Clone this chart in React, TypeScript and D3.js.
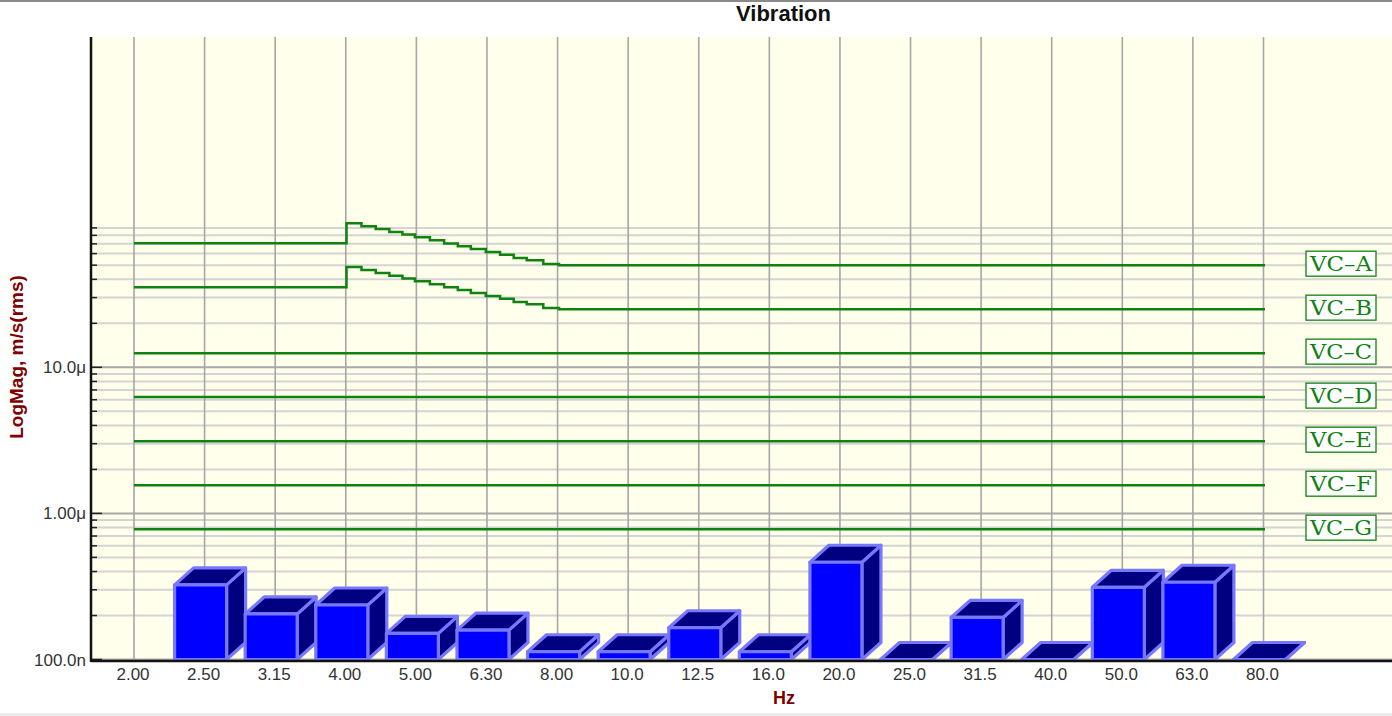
import React from "react";
import * as d3 from "d3";

// 1/3 octave band centres shown on the x axis
const bands = [
  "2.00", "2.50", "3.15", "4.00", "5.00", "6.30", "8.00", "10.0", "12.5",
  "16.0", "20.0", "25.0", "31.5", "40.0", "50.0", "63.0", "80.0",
];

// measured band levels, m/s rms (null = no bar)
const levels = [
  null, 324e-9, 205e-9, 236e-9, 151e-9, 159e-9, 113e-9, 113e-9, 165e-9,
  113e-9, 463e-9, 85e-9, 194e-9, 85e-9, 312e-9, 338e-9, 85e-9,
];

// vibration criterion curves (Hz, µm/s)
const vcSteppedFreq = [2, 4, 4.2, 4.4, 4.6, 4.8, 5.0, 5.25, 5.5, 5.75, 6.0, 6.3, 6.6, 6.9, 7.2, 7.6, 8, 80];
const vcAValues = [70.6, 97, 92.5, 88.5, 84.5, 81, 77.5, 74, 70.5, 67.5, 64.5, 61.5, 59, 56, 54, 51, 50, 50];
const vcBValues = [35.3, 48.5, 46.3, 44.2, 42.3, 40.5, 38.8, 37, 35.3, 33.8, 32.3, 30.8, 29.5, 28, 27, 25.5, 25, 25];
const vcFlatFreq = [2, 80];
const vcNames = ["VC–A", "VC–B", "VC–C", "VC–D", "VC–E", "VC–F", "VC–G"];
const vcFlatLevels = [12.5, 6.25, 3.12, 1.56, 0.78];

const yTickValues = [1e-7, 1e-6, 1e-5];
const yTickLabels = ["100.0n", "1.00μ", "10.0μ"];

const W = 1392;
const H = 716;
const plotLeft = 91;
const plotTop = 37;
const plotBottom = 661;

const sans = "'Liberation Sans', Arial, sans-serif";
const serif = "'DejaVu Serif', 'Liberation Serif', serif";
const green = "#0f820f";

export default function App() {
  const x = d3.scalePoint<string>().domain(bands).range([134, 1263.5]);
  const xf = d3.scaleLog().domain([2, 80]).range([134, 1265]);
  const y = d3.scaleLog().domain([1e-7, 1e-5]).range([659.5, 367.3]);

  // minor grid: 1..9 per decade from 100n to 90µ
  const gridValues: number[] = [];
  [-7, -6, -5].forEach((e) => d3.range(1, 10).forEach((m) => gridValues.push(m * Math.pow(10, e))));

  const line = d3
    .line<[number, number]>()
    .x((d) => xf(d[0]))
    .y((d) => y(d[1] * 1e-6))
    .curve(d3.curveStepAfter);

  const curves: [number, number][][] = [
    vcSteppedFreq.map((f, i) => [f, vcAValues[i]]),
    vcSteppedFreq.map((f, i) => [f, vcBValues[i]]),
    ...vcFlatLevels.map((v) => vcFlatFreq.map((f) => [f, v] as [number, number])),
  ];

  const dx = 19;
  const dy = 17;
  const base = y(1e-7);

  return (
    <svg width={W} height={H} style={{ position: "absolute", left: 0, top: 0, background: "#fff" }}>
      <rect x={0} y={0} width={W} height={2} fill="#8a8a8a" />
      <rect x={0} y={713} width={W} height={3} fill="#ececec" />
      <text x={783.5} y={21} textAnchor="middle" fontFamily={sans} fontWeight="bold" fontSize={22} fill="#111">
        Vibration
      </text>

      <rect x={plotLeft} y={plotTop} width={W - plotLeft} height={plotBottom - plotTop} fill="#ffffeb" />

      {/* horizontal grid */}
      {gridValues.map((v, i) => {
        const major = yTickValues.some((t) => Math.abs(t - v) / t < 1e-6);
        return (
          <g key={"h" + i}>
            <line x1={plotLeft} x2={W} y1={y(v)} y2={y(v)} stroke={major ? "#a8a8a8" : "#d4d4d4"} strokeWidth={2} />
            <line x1={plotLeft} x2={plotLeft + (major ? 11 : 6)} y1={y(v)} y2={y(v)} stroke="#222" strokeWidth={1.5} />
          </g>
        );
      })}

      {/* vertical grid */}
      {bands.map((b) => (
        <line key={"v" + b} x1={x(b)} x2={x(b)} y1={plotTop} y2={plotBottom} stroke="#a6a6a6" strokeWidth={1.6} />
      ))}

      {/* 3D bars */}
      {bands.map((b, i) => {
        const v = levels[i];
        if (v == null) return null;
        const cx = x(b) as number;
        const x0 = cx - 30;
        const x1 = cx + 22;
        const top = Math.min(y(Math.max(v, 1e-7)), base);
        const face = "#7878ff";
        return (
          <g key={"bar" + b} stroke={face} strokeWidth={3.2} strokeLinejoin="round">
            <path d={`M${x1},${top}L${x1 + dx},${top - dy}L${x1 + dx},${base - dy}L${x1},${base}Z`} fill="#000080" />
            <path d={`M${x0},${top}L${x0 + dx},${top - dy}L${x1 + dx},${top - dy}L${x1},${top}Z`} fill="#000080" />
            {base - top > 0.5 && <rect x={x0} y={top} width={x1 - x0} height={base - top} fill="#0000ff" />}
          </g>
        );
      })}

      {/* criterion curves */}
      {curves.map((c, i) => (
        <path key={"vc" + i} d={line(c) || ""} fill="none" stroke={green} strokeWidth={2.5} />
      ))}

      {/* curve labels */}
      {curves.map((c, i) => {
        const cy = y(c[c.length - 1][1] * 1e-6) - 1.5;
        return (
          <g key={"lab" + i}>
            <rect x={1306} y={cy - 12.5} width={70} height={25} fill="#fff" stroke={green} strokeWidth={1.3} />
            <text
              x={1341}
              y={cy + 7.5}
              textAnchor="middle"
              fontFamily={serif}
              fontSize={20}
              fill={green}
              textLength={62}
              lengthAdjust="spacingAndGlyphs"
            >
              {vcNames[i]}
            </text>
          </g>
        );
      })}

      {/* axes */}
      <line x1={plotLeft} x2={plotLeft} y1={plotTop} y2={plotBottom + 1} stroke="#111" strokeWidth={2.5} />
      <line x1={plotLeft} x2={W} y1={plotBottom} y2={plotBottom} stroke="#111" strokeWidth={2.5} />

      {yTickValues.map((v, i) => (
        <text key={"yt" + i} x={86} y={y(v) + 6} textAnchor="end" fontFamily={sans} fontSize={17} fill="#333">
          {yTickLabels[i]}
        </text>
      ))}
      {bands.map((b) => (
        <text key={"xt" + b} x={(x(b) as number) - 1} y={680} textAnchor="middle" fontFamily={sans} fontSize={17} fill="#333">
          {b}
        </text>
      ))}

      <text x={784} y={704} textAnchor="middle" fontFamily={sans} fontWeight="bold" fontSize={18} fill="#800000">
        Hz
      </text>
      <text
        transform="translate(23,357) rotate(-90)"
        textAnchor="middle"
        fontFamily={sans}
        fontWeight="bold"
        fontSize={19}
        fill="#800000"
      >
        LogMag, m/s(rms)
      </text>
    </svg>
  );
}
